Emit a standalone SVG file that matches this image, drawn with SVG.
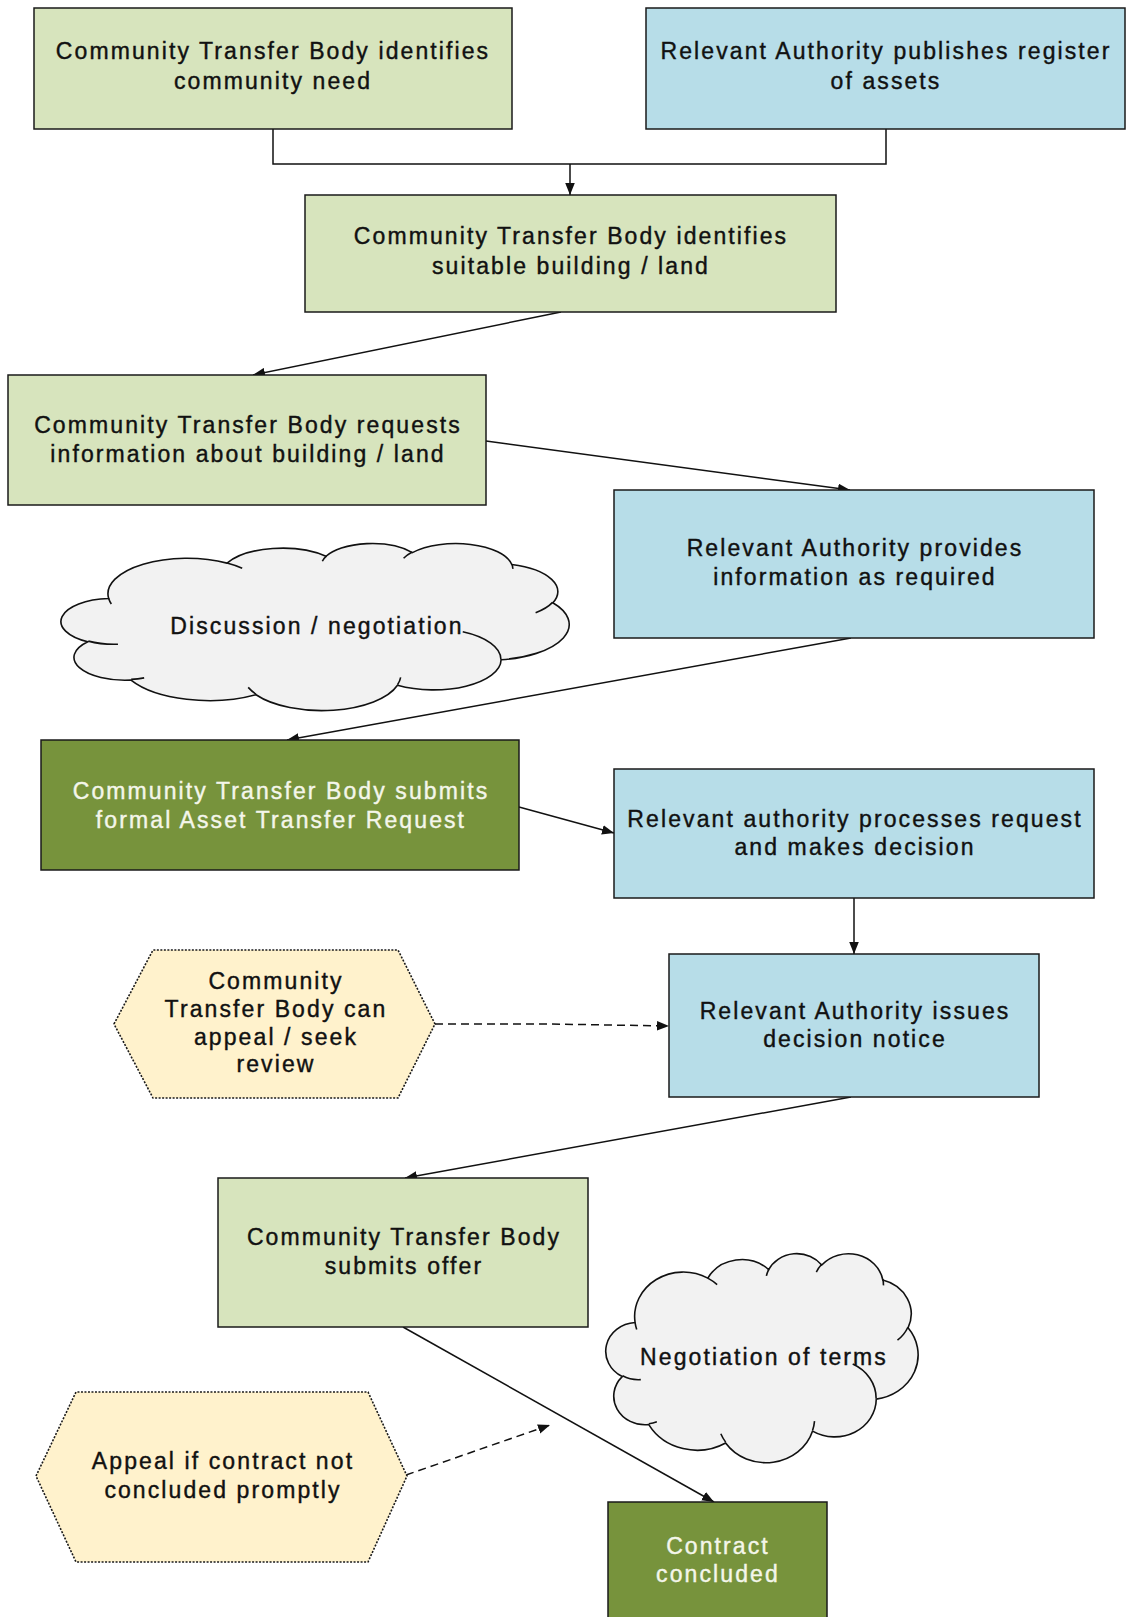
<svg xmlns="http://www.w3.org/2000/svg" width="1128" height="1617" viewBox="0 0 1128 1617">
<style>
.box{stroke:#1a1a1a;stroke-width:1.5}
.g{fill:#d7e4bd}
.b{fill:#b7dde8}
.d{fill:#77933c}
.hex{fill:#fff2cc;stroke:#1a1a1a;stroke-width:1.6;stroke-dasharray:2,1.5}
.cloud{fill:#f2f2f2;stroke:#111;stroke-width:1.6}
.curl{fill:none;stroke:#111;stroke-width:1.6}
text{font-family:"Liberation Sans",Arial,sans-serif;font-size:23px;letter-spacing:2.1px;text-anchor:middle;fill:#111;stroke:#111;stroke-width:0.4}
.w{fill:#f4f6ea;stroke:#f4f6ea}
.c{fill:none;stroke:#111;stroke-width:1.5}
.dash{stroke-dasharray:8,5}
</style>
<defs>
<marker id="ah" viewBox="0 0 10 8" refX="10" refY="4" markerWidth="12" markerHeight="10" markerUnits="userSpaceOnUse" orient="auto">
<path d="M0,0 L10,4 L0,8 z" fill="#111"/>
</marker>
</defs>
<rect width="1128" height="1617" fill="#ffffff"/>

<g id="connectors">
<path class="c" d="M273,129 V164 H886 V129"/>
<path class="c" d="M570,164 V195" marker-end="url(#ah)"/>
<path class="c" d="M561,312 L253,375" marker-end="url(#ah)"/>
<path class="c" d="M486,441 L850,490" marker-end="url(#ah)"/>
<path class="c" d="M851,638 L287,740" marker-end="url(#ah)"/>
<path class="c" d="M519,807 L614,833" marker-end="url(#ah)"/>
<path class="c" d="M854,898 V954" marker-end="url(#ah)"/>
<path class="c dash" d="M435,1024 L550,1024 L669,1026" marker-end="url(#ah)"/>
<path class="c" d="M851,1097 L405,1178" marker-end="url(#ah)"/>
<path class="c" d="M403,1327 L714,1502" marker-end="url(#ah)"/>
<path class="c dash" d="M406,1475 L550,1425" marker-end="url(#ah)"/>
</g>

<g id="node-ctb-need">
<rect class="box g" x="34" y="8" width="478" height="121"/>
<text x="273" y="59">Community Transfer Body identifies</text>
<text x="273" y="89">community need</text>
</g>

<g id="node-ra-register">
<rect class="box b" x="646" y="8" width="479" height="121"/>
<text x="886" y="59">Relevant Authority publishes register</text>
<text x="886" y="89">of assets</text>
</g>

<g id="node-ctb-building">
<rect class="box g" x="305" y="195" width="531" height="117"/>
<text x="571" y="244">Community Transfer Body identifies</text>
<text x="571" y="274">suitable building / land</text>
</g>

<g id="node-ctb-requests">
<rect class="box g" x="8" y="375" width="478" height="130"/>
<text x="248" y="433">Community Transfer Body requests</text>
<text x="248" y="462">information about building / land</text>
</g>

<g id="node-ra-provides">
<rect class="box b" x="614" y="490" width="480" height="148"/>
<text x="855" y="556">Relevant Authority provides</text>
<text x="855" y="585">information as required</text>
</g>

<g id="node-discussion">
<g transform="translate(63,543) scale(0.011713,0.0038657)">
<path class="cloud" vector-effect="non-scaling-stroke" d="M3900,14370 A6753,9190 0 0 1 14005,5202 A5333,7267 0 0 1 22454,3432 A4365,5945 0 0 1 29831,2480 A4857,6595 0 0 1 38316,5575 A5333,7273 0 0 1 41817,15459 A6775,9220 0 0 1 37403,30201 A5785,7867 0 0 1 28555,36812 A6752,9215 0 0 1 16479,39262 A7720,10543 0 0 1 5805,35466 A4360,5918 0 0 1 2114,25543 A4345,5945 0 0 1 3900,14370 Z"/>
<path class="curl" vector-effect="non-scaling-stroke" d="M4693,26177 A4345,5945 0 0 1 2160,25380 M6928,34899 A4360,5918 0 0 1 5819,35281 M16478,39090 A6752,9215 0 0 1 15810,37351 M28827,34751 A6752,9215 0 0 1 28560,36661 M34129,22954 A5785,7867 0 0 1 37381,30090 M41798,15354 A5333,7273 0 0 1 40350,18030 M38324,5426 A4857,6595 0 0 1 38400,6690 M29078,3952 A4857,6595 0 0 1 29820,2339 M22141,4720 A4365,5945 0 0 1 22500,3332 M14000,5192 A6753,9190 0 0 1 15299,6539 M4127,15789 A6753,9190 0 0 1 3900,14371"/>
</g>
<text x="317" y="634">Discussion / negotiation</text>
</g>

<g id="node-ctb-submits">
<rect class="box d" x="41" y="740" width="478" height="130"/>
<text class="w" x="281" y="799">Community Transfer Body submits</text>
<text class="w" x="281" y="828">formal Asset Transfer Request</text>
</g>

<g id="node-ra-processes">
<rect class="box b" x="614" y="769" width="480" height="129"/>
<text x="855" y="827">Relevant authority processes request</text>
<text x="855" y="855">and makes decision</text>
</g>

<g id="node-appeal-review">
<polygon class="hex" points="114,1024 153,950 398,950 435,1024 398,1098 153,1098"/>
<text x="276" y="989">Community</text>
<text x="276" y="1017">Transfer Body can</text>
<text x="276" y="1045">appeal / seek</text>
<text x="276" y="1072">review</text>
</g>

<g id="node-ra-notice">
<rect class="box b" x="669" y="954" width="370" height="143"/>
<text x="855" y="1019">Relevant Authority issues</text>
<text x="855" y="1047">decision notice</text>
</g>

<g id="node-ctb-offer">
<rect class="box g" x="218" y="1178" width="370" height="149"/>
<text x="404" y="1245">Community Transfer Body</text>
<text x="404" y="1274">submits offer</text>
</g>

<g id="node-negotiation-terms">
<g transform="translate(607,1253) scale(0.0071991,0.004838)">
<path class="cloud" vector-effect="non-scaling-stroke" d="M3900,14370 A6753,9190 0 0 1 14005,5202 A5333,7267 0 0 1 22454,3432 A4365,5945 0 0 1 29831,2480 A4857,6595 0 0 1 38316,5575 A5333,7273 0 0 1 41817,15459 A6775,9220 0 0 1 37403,30201 A5785,7867 0 0 1 28555,36812 A6752,9215 0 0 1 16479,39262 A7720,10543 0 0 1 5805,35466 A4360,5918 0 0 1 2114,25543 A4345,5945 0 0 1 3900,14370 Z"/>
<path class="curl" vector-effect="non-scaling-stroke" d="M4693,26177 A4345,5945 0 0 1 2160,25380 M6928,34899 A4360,5918 0 0 1 5819,35281 M16478,39090 A6752,9215 0 0 1 15810,37351 M28827,34751 A6752,9215 0 0 1 28560,36661 M34129,22954 A5785,7867 0 0 1 37381,30090 M41798,15354 A5333,7273 0 0 1 40350,18030 M38324,5426 A4857,6595 0 0 1 38400,6690 M29078,3952 A4857,6595 0 0 1 29820,2339 M22141,4720 A4365,5945 0 0 1 22500,3332 M14000,5192 A6753,9190 0 0 1 15299,6539 M4127,15789 A6753,9190 0 0 1 3900,14371"/>
</g>
<text x="764" y="1365">Negotiation of terms</text>
</g>

<g id="node-appeal-contract">
<polygon class="hex" points="36,1476 76,1392 368,1392 407,1476 368,1562 76,1562"/>
<text x="223" y="1469">Appeal if contract not</text>
<text x="223" y="1498">concluded promptly</text>
</g>

<g id="node-contract">
<rect class="box d" x="608" y="1502" width="219" height="130"/>
<text class="w" x="718" y="1554">Contract</text>
<text class="w" x="718" y="1582">concluded</text>
</g>
</svg>
